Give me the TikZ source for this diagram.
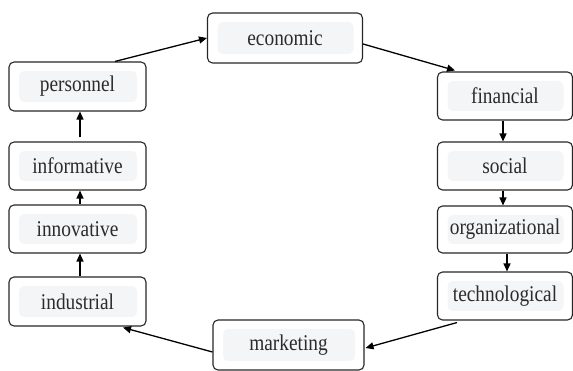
\documentclass[tikz,border=0pt]{standalone}
\usepackage{fontspec}
\setmainfont{Liberation Serif}[FakeStretch=0.86]
\usetikzlibrary{arrows.meta,calc}
\definecolor{boxline}{HTML}{262626}
\definecolor{labelbg}{HTML}{F4F5F7}
\definecolor{labeltext}{HTML}{2B2B2B}
\tikzset{
  stage/.style={draw=boxline, line width=1.1pt, rounded corners=5pt,
    minimum height=49pt, inner sep=0pt, text=labeltext,
    font=\fontsize{22.5}{24}\selectfont,
    path picture={\fill[labelbg]
      ([shift={(10pt,-9pt)}]path picture bounding box.north west) rectangle
      ([shift={(-9pt,9pt)}]path picture bounding box.south east);}},
  leftcol/.style={stage, minimum width=137pt},
  rightcol/.style={stage, minimum width=135pt},
  widebox/.style={stage, minimum width=155pt, minimum height=50pt},
  flow/.style={-{Triangle[length=8pt,width=7pt]}, line width=1.3pt, draw=black}
}
\begin{document}
\begin{tikzpicture}[x=1pt,y=-1pt]
\useasboundingbox (0,0) rectangle (573,371);

% top and bottom boxes
\node[widebox] (economic) at (285,38) {economic};
\node[widebox, minimum width=151pt] (marketing) at (288.5,345) {marketing};

% left column
\node[leftcol] (personnel) at (77.5,86.5) {personnel};
\node[leftcol, minimum height=48pt] (informative) at (77.5,166) {informative};
\node[leftcol, minimum height=48pt] (innovative) at (77.5,229) {innovative};
\node[leftcol] (industrial) at (77.5,301.5) {industrial};

% right column
\node[rightcol, minimum height=48pt] (financial) at (505,96) {financial};
\node[rightcol, minimum height=48pt] (social) at (505,166) {social};
\node[rightcol, minimum height=47pt] (organizational) at (505,229.5) {organizational};
\node[rightcol, minimum height=48pt] (technological) at (505,296) {technological};

% cycle of connectors
\draw[flow] ($(personnel.north)+(37.5,0)$) -- (economic.west);
\draw[flow] ($(economic.east)+(0,6)$) -- ($(financial.north)+(-50,-1)$);
\draw[flow] ($(financial.south)+(-2,0)$) -- ($(social.north)+(-2,0)$);
\draw[flow] ($(social.south)+(-2,0)$) -- ($(organizational.north)+(-2,0)$);
\draw[flow] ($(organizational.south)+(2,0)$) -- ($(technological.north)+(2,0)$);
\draw[flow] ($(technological.south)+(-48,2)$) -- ($(marketing.east)+(1,3)$);
\draw[flow] ($(marketing.west)+(0,7)$) -- ($(industrial.south)+(45.5,1)$);
\draw[flow] ($(industrial.north)+(2.5,0)$) -- ($(innovative.south)+(2.5,0)$);
\draw[flow] ($(innovative.north)+(2.5,0)$) -- ($(informative.south)+(2.5,0)$);
\draw[flow] ($(informative.north)+(2.5,-4)$) -- ($(personnel.south)+(2.5,0)$);
\end{tikzpicture}
\end{document}
